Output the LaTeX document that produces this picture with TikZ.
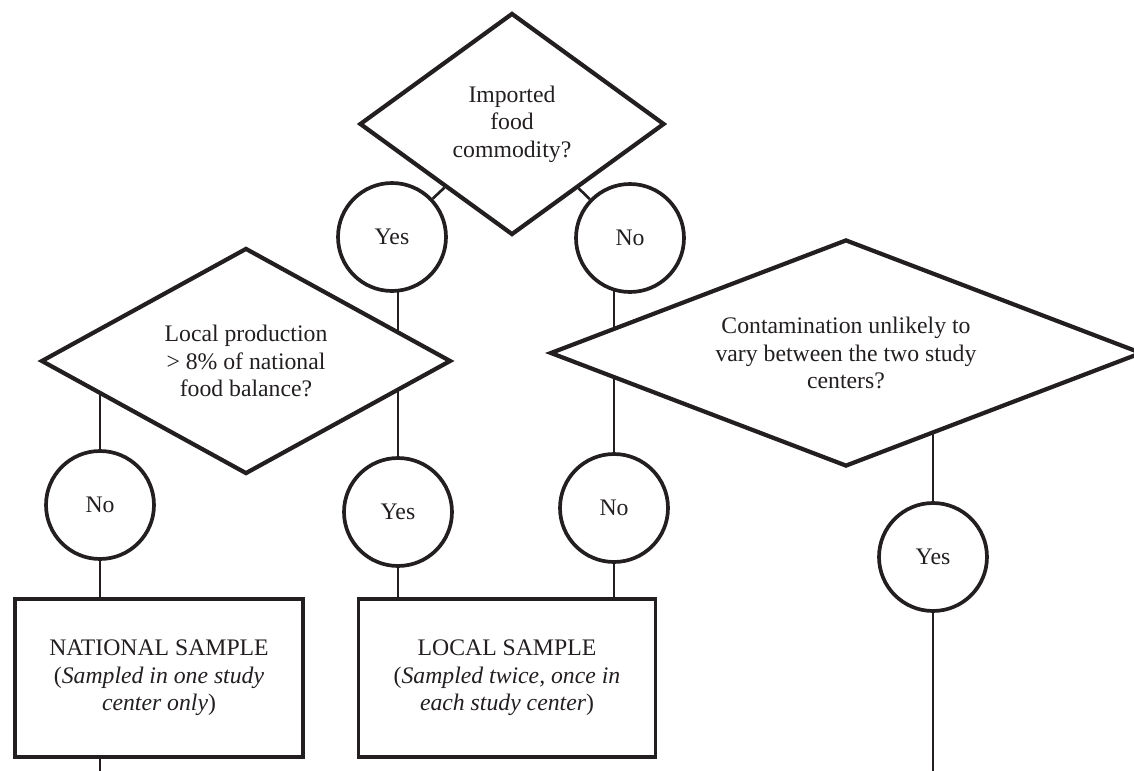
\documentclass[tikz,border=0pt]{standalone}
\usepackage{fontspec}
\setmainfont{Liberation Serif}
\usetikzlibrary{shapes.geometric, backgrounds}
\definecolor{ink}{HTML}{231F20}

\begin{document}
\begin{tikzpicture}[x=0.02cm, y=-0.02cm,
    font=\fontsize{13.5}{15.6}\selectfont, text=ink,
    dec/.style={diamond, draw=ink, fill=white, line width=2.4pt, inner sep=0pt, align=center},
    ans/.style={circle, draw=ink, fill=white, line width=2.1pt, inner sep=0pt, minimum size=2.16cm},
    res/.style={rectangle, draw=ink, fill=white, line width=2pt, align=center, minimum height=3.16cm},
    con/.style={draw=ink, line width=1.5pt}]
  \useasboundingbox (0,0) rectangle (1134,771);

  % questions
  \draw node[dec, minimum width=6.1cm, minimum height=4.44cm, shape aspect=1.4] (imp) at (512,124) {Imported\\food\\commodity?};
  \draw node[dec, minimum width=8.2cm, minimum height=4.52cm, shape aspect=1.8] (prod) at (246,361) {Local production\\> 8\% of national\\food balance?};
  \draw node[dec, minimum width=11.84cm, minimum height=4.54cm, shape aspect=2.6] (cont) at (846,353) {Contamination unlikely to\\vary between the two study\\centers?};

  % answers
  \draw node[ans] (yes1) at (392,237) {Yes};
  \draw node[ans] (no1) at (630,238) {No};
  \draw node[ans] (no2) at (100,505) {No};
  \draw node[ans] (yes2) at (398,512) {Yes};
  \draw node[ans] (no3) at (614,508) {No};
  \draw node[ans] (yes3) at (933,557) {Yes};

  % samples
  \draw node[res, minimum width=5.76cm] (nat) at (159,678) {NATIONAL SAMPLE\\(\textit{Sampled in one study}\\\textit{center only})};
  \draw node[res, minimum width=5.94cm] (loc) at (507,678) {LOCAL SAMPLE\\(\textit{Sampled twice, once in}\\\textit{each study center})};

  \coordinate (natend) at (100,780);
  \coordinate (yes3end) at (933,780);

  \begin{scope}[on background layer]
    \draw[con] (imp) -- (yes1) (imp) -- (no1);
    \foreach \a/\b in {yes2/yes1, no2/prod, no2/nat, yes2/loc, no3/no1, no3/loc, yes3/cont}
      \draw[con] (\a) -- (\a |- \b);
    \draw[con] (no2 |- nat) -- (natend);
    \draw[con] (yes3) -- (yes3end);
  \end{scope}
\end{tikzpicture}
\end{document}
